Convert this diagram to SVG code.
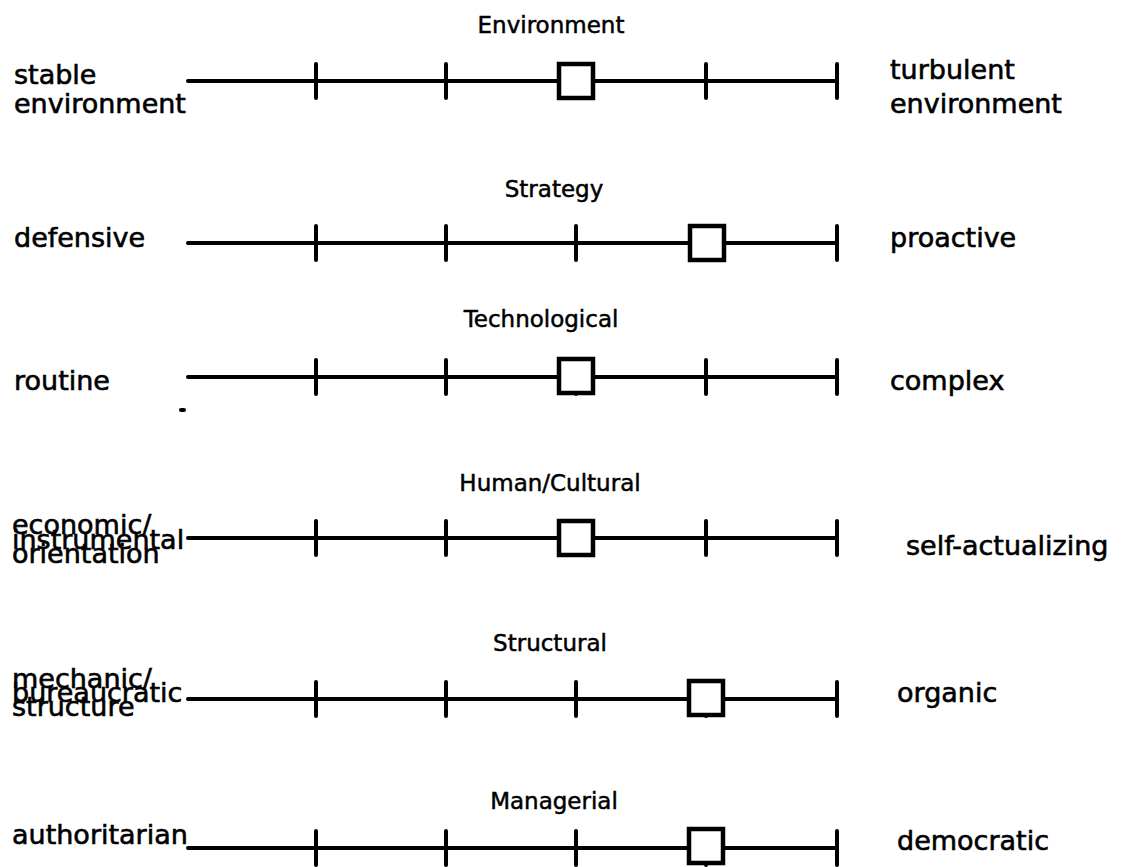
<svg xmlns="http://www.w3.org/2000/svg" width="1135" height="867" viewBox="0 0 1135 867">
<style>
.t{font-family:"DejaVu Sans","Liberation Sans",sans-serif;font-size:23px;fill:#000;stroke:#000;stroke-width:0.5;text-anchor:middle}
.l{font-family:"DejaVu Sans","Liberation Sans",sans-serif;font-size:27px;fill:#000;stroke:#000;stroke-width:0.6}
.ln{stroke:#000;stroke-width:4;fill:none;stroke-linecap:round}
.tk{stroke:#000;stroke-width:4;stroke-linecap:round}
.sq{fill:#fff;stroke:#000;stroke-width:4.5}
</style>
<defs>
<g id="scale">
<line class="ln" x1="188" y1="0" x2="837" y2="0"/>
<line class="tk" x1="316" y1="-17" x2="316" y2="17"/>
<line class="tk" x1="446" y1="-17" x2="446" y2="17"/>
<line class="tk" x1="576" y1="-17" x2="576" y2="17"/>
<line class="tk" x1="706" y1="-17" x2="706" y2="17"/>
<line class="tk" x1="837" y1="-17" x2="837" y2="17"/>
</g>
<rect id="mk" class="sq" x="-17" y="-17" width="34" height="34"/>
</defs>
<g id="connectors">
<use href="#scale" y="81"/>
<use href="#scale" y="243"/>
<use href="#scale" y="377"/>
<use href="#scale" y="538"/>
<use href="#scale" y="699"/>
<use href="#scale" y="848"/>
</g>
<g id="environment">
<text class="t" x="551" y="33">Environment</text>
<text class="l" x="14" y="84">stable</text>
<text class="l" x="14" y="113">environment</text>
<text class="l" x="890" y="79">turbulent</text>
<text class="l" x="890" y="113">environment</text>
<use href="#mk" x="576" y="81"/>
</g>
<g id="strategy">
<text class="t" x="554" y="197">Strategy</text>
<text class="l" x="14" y="247">defensive</text>
<text class="l" x="890" y="247">proactive</text>
<use href="#mk" x="707" y="243"/>
</g>
<g id="technological">
<text class="t" x="541" y="327">Technological</text>
<text class="l" x="14" y="390">routine</text>
<text class="l" x="890" y="390">complex</text>
<use href="#mk" x="576" y="376"/>
<line class="tk" x1="181" y1="410" x2="184" y2="410"/>
</g>
<g id="human-cultural">
<text class="t" x="550" y="491">Human/Cultural</text>
<text class="l" x="12" y="534">economic/</text>
<text class="l" x="12" y="549">instrumental</text>
<text class="l" x="12" y="563">orientation</text>
<text class="l" x="906" y="555">self-actualizing</text>
<use href="#mk" x="576" y="538"/>
</g>
<g id="structural">
<text class="t" x="550" y="651">Structural</text>
<text class="l" x="12" y="688">mechanic/</text>
<text class="l" x="12" y="702">bureaucratic</text>
<text class="l" x="12" y="716">structure</text>
<text class="l" x="897" y="702">organic</text>
<use href="#mk" x="706" y="698"/>
</g>
<g id="managerial">
<text class="t" x="554" y="809">Managerial</text>
<text class="l" x="12" y="844">authoritarian</text>
<text class="l" x="897" y="850">democratic</text>
<use href="#mk" x="706" y="846"/>
</g>
</svg>
